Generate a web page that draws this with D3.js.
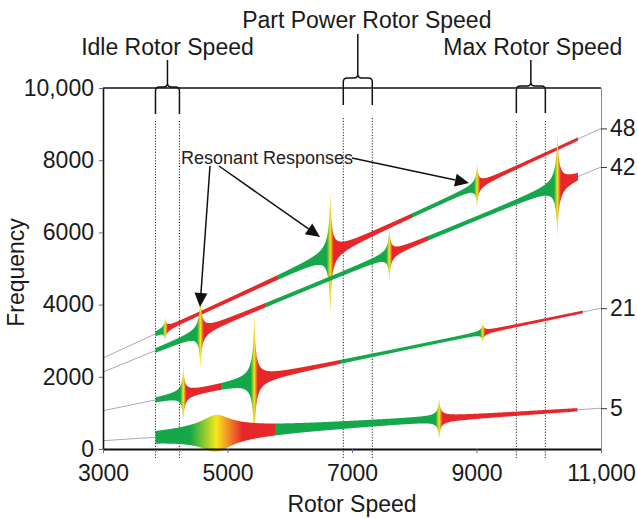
<!DOCTYPE html>
<html><head><meta charset="utf-8">
<script src="https://cdn.jsdelivr.net/npm/d3@7"></script>
<style>
body{margin:0;background:#fff}
svg{display:block}
text{font-family:"Liberation Sans",Arial,Helvetica,sans-serif}
</style>
</head><body>
<svg id="chart" width="637" height="518"></svg>
<script>
// ---------------- data ----------------
const engineOrders = [48, 42, 21, 5];
const freqAt3000  = [2520, 2130, 1060, 230];
const freqAt11000 = [8880, 7810, 3900, 1130];
const bandStart = [3843, 3843, 3843, 3843];
const bandEnd   = [10630, 10630, 10710, 10620];
const baseHalfStart = [46, 50, 46, 80];
const baseHalfEnd   = [42, 44, 34, 28];

// resonant responses
const resOrder = [48, 48, 48, 42, 42, 42, 21, 21, 21, 5, 5];
const resRpm   = [4000, 6650, 9010, 4565, 7600, 10300, 4290, 5430, 9100, 4820, 8400];
const resAmp   = [280, 1660, 560, 970, 700, 1410, 720, 1770, 230, 440, 500];
const resWidth = [20, 30, 26, 28, 26, 32, 26, 30, 22, 220, 28];
const resKind  = ["spike","spike","spike","spike","spike","spike","spike","spike","spike","hump","spike"];
const resBlend = [40, 55, 50, 55, 50, 55, 50, 55, 40, 420, 55];

// where band colour returns from red to green
const switchOrder = [48, 48, 42, 42, 21, 21, 5];
const switchRpm   = [5800, 7970, 5610, 8225, 4890, 6810, 5770];

// operating ranges
const rangeLabels = ["Idle Rotor Speed", "Part Power Rotor Speed", "Max Rotor Speed"];
const rangeLow  = [3843, 6860, 9640];
const rangeHigh = [4228, 7326, 10106];

// axes
const xTicks = [3000, 5000, 7000, 9000, 11000];
const xTickLabels = ["3000", "5000", "7000", "9000", "11,000"];
const yTicks = [0, 2000, 4000, 6000, 8000, 10000];
const yTickLabels = ["0", "2000", "4000", "6000", "8000", "10,000"];

// annotation arrows (tips in data units)
const arrowTipRpm  = [4558, 6486, 8880];
const arrowTipFreq = [3934, 5873, 7368];

// ---------------- drawing ----------------
const svg = d3.select("#chart");
const x = d3.scaleLinear().domain([3000, 11000]).range([103, 601]);
const y = d3.scaleLinear().domain([0, 10000]).range([449, 88]);

const GREEN = "#14a84a", RED = "#e8272b", YELLOW = "#f6e61c", GRAY = "#a3aab8";

const lines = engineOrders.map((eo, i) => ({
  eo, i, f0: freqAt3000[i], f1: freqAt11000[i], s: bandStart[i], e: bandEnd[i],
  b0: baseHalfStart[i], b1: baseHalfEnd[i]
}));
const res = resOrder.map((eo, i) => ({eo, rpm: resRpm[i], amp: resAmp[i], w: resWidth[i], kind: resKind[i], blend: resBlend[i]}));
const freqOn = (L, r) => L.f0 + (L.f1 - L.f0) * (r - 3000) / 8000;

function halfWidth(L, r) {
  let h = L.b0 + (L.b1 - L.b0) * (r - L.s) / (L.e - L.s);
  res.filter(q => q.eo === L.eo).forEach(q => {
    const d = Math.abs(r - q.rpm) / q.w;
    h += q.kind === "spike" ? q.amp / Math.pow(1 + d, 1.3) : q.amp / Math.sqrt(1 + d * d);
  });
  return h;
}

// dotted range lines
const dots = svg.append("g");
rangeLow.forEach((lo, i) => {
  [lo, rangeHigh[i]].forEach(r => {
    dots.append("line").attr("x1", x(r)).attr("x2", x(r))
      .attr("y1", i === 1 ? 118 : 121).attr("y2", 458)
      .attr("stroke", "#222").attr("stroke-width", 1).attr("stroke-dasharray", "1.2,1.6");
  });
});

// thin gray engine-order lines
const lineGen = d3.line().x(d => x(d[0])).y(d => y(d[1]));
svg.append("g").selectAll("path").data(lines).join("path")
  .attr("d", L => lineGen([[3000, L.f0], [11000, L.f1]]))
  .attr("fill", "none").attr("stroke", GRAY).attr("stroke-width", 1);

// gradients for bands
const defs = svg.append("defs");
lines.forEach(L => {
  const rs = res.filter(q => q.eo === L.eo).sort((a, b) => a.rpm - b.rpm);
  const sw = switchRpm.filter((s, k) => switchOrder[k] === L.eo).sort((a, b) => a - b);
  const off = r => Math.max(0, Math.min(1, (x(r) - x(L.s)) / (x(L.e) - x(L.s))));
  const st = [[0, GREEN]];
  rs.forEach((q, k) => {
    st.push([off(q.rpm - q.blend), GREEN]);
    st.push([off(q.rpm), YELLOW]);
    st.push([off(q.rpm + q.blend), RED]);
    if (k < sw.length) { st.push([off(sw[k]), RED]); st.push([off(sw[k]), GREEN]); }
  });
  st.push([1, RED]);
  const g = defs.append("linearGradient").attr("id", "g" + L.eo)
    .attr("gradientUnits", "userSpaceOnUse")
    .attr("x1", x(L.s)).attr("x2", x(L.e)).attr("y1", 0).attr("y2", 0);
  st.forEach(s => g.append("stop").attr("offset", s[0]).attr("stop-color", s[1]));
});

// bands
const area = d3.area().x(d => x(d.r)).y0(d => y(d.f - d.h)).y1(d => y(d.f + d.h));
lines.forEach(L => {
  const pts = d3.range(L.s, L.e, 3).concat(res.filter(q => q.eo === L.eo).map(q => q.rpm), [L.e])
    .sort((a, b) => a - b)
    .map(r => ({r, f: freqOn(L, r), h: halfWidth(L, r)}));
  svg.append("path").attr("d", area(pts)).attr("fill", `url(#g${L.eo})`);
});

// frame top
svg.append("line").attr("x1", x(3000)).attr("x2", x(11000)).attr("y1", y(10000)).attr("y2", y(10000))
  .attr("stroke", "#111").attr("stroke-width", 1.3);

// left axis
const ax = svg.append("g").attr("transform", `translate(${x(3000)},0)`)
  .call(d3.axisLeft(y).tickValues(yTicks).tickFormat((d, i) => yTickLabels[i]).tickSize(4).tickSizeOuter(0).tickPadding(5));
ax.select(".domain").attr("stroke", "#111").attr("stroke-width", 1.6);
ax.selectAll(".tick line").attr("stroke", "#5a6aa8");
ax.selectAll(".tick text").attr("font-size", 23).attr("fill", "#1a1a1a").attr("font-family", "Liberation Sans, Arial, sans-serif");

// bottom axis
const bx = svg.append("g").attr("transform", `translate(0,${y(0)})`)
  .call(d3.axisBottom(x).tickValues(xTicks).tickFormat((d, i) => xTickLabels[i]).tickSize(4).tickSizeOuter(0).tickPadding(12));
bx.select(".domain").attr("stroke", "#111").attr("stroke-width", 2);
bx.selectAll(".tick line").attr("stroke", "#5a6aa8");
bx.selectAll(".tick text").attr("font-size", 23).attr("fill", "#1a1a1a").attr("font-family", "Liberation Sans, Arial, sans-serif");

// right axis (engine orders)
const rx = svg.append("g").attr("transform", `translate(${x(11000)},0)`)
  .call(d3.axisRight(y).tickValues(freqAt11000).tickFormat((d, i) => engineOrders[i]).tickSize(6).tickSizeOuter(0).tickPadding(3));
rx.select(".domain").attr("stroke", "#8a8a8a").attr("stroke-width", 1);
rx.selectAll(".tick line").attr("stroke", "#333");
rx.selectAll(".tick text").attr("font-size", 23).attr("fill", "#1a1a1a").attr("font-family", "Liberation Sans, Arial, sans-serif");

// axis titles
svg.append("text").attr("transform", `translate(24,${(y(0) + y(10000)) / 2 + 4}) rotate(-90)`)
  .attr("text-anchor", "middle").attr("font-size", 23).attr("fill", "#1a1a1a").text("Frequency");
svg.append("text").attr("x", (x(3000) + x(11000)) / 2).attr("y", 512)
  .attr("text-anchor", "middle").attr("font-size", 23).attr("fill", "#1a1a1a").text("Rotor Speed");

// range brackets
const bracketTop  = [87, 78, 86];
const bracketBot  = [114, 105, 113];
const bracketStem = [60, 34, 60];
const labelBase   = [55, 28, 55];
const labelDx     = [0, 9, 2];
rangeLow.forEach((lo, i) => {
  const x1 = x(lo), x2 = x(rangeHigh[i]), xc = (x1 + x2) / 2, t = bracketTop[i], b = bracketBot[i], r = 4;
  const p = d3.path();
  p.moveTo(x1, b); p.lineTo(x1, t + r); p.quadraticCurveTo(x1, t, x1 + r, t); p.lineTo(xc - r, t);
  p.quadraticCurveTo(xc, t, xc, t - r); p.lineTo(xc, bracketStem[i]);
  p.moveTo(x2, b); p.lineTo(x2, t + r); p.quadraticCurveTo(x2, t, x2 - r, t); p.lineTo(xc + r, t);
  p.quadraticCurveTo(xc, t, xc, t - r);
  svg.append("path").attr("d", p.toString()).attr("fill", "none").attr("stroke", "#111").attr("stroke-width", 1.5);
  svg.append("text").attr("x", xc + labelDx[i]).attr("y", labelBase[i]).attr("text-anchor", "middle")
    .attr("font-size", 23).attr("fill", "#1a1a1a").text(rangeLabels[i]);
});

// annotation
svg.append("text").attr("x", 181).attr("y", 164).attr("font-size", 18).attr("fill", "#222").text("Resonant Responses");
const arrowFrom = [[210, 166], [219, 166], [352, 158]];
arrowFrom.forEach((f, i) => {
  const tx = x(arrowTipRpm[i]), ty = y(arrowTipFreq[i]);
  const dx = tx - f[0], dy = ty - f[1], len = Math.hypot(dx, dy), ux = dx / len, uy = dy / len;
  const hl = 14, hw = 6.5, bxp = tx - ux * hl, byp = ty - uy * hl;
  svg.append("line").attr("x1", f[0]).attr("y1", f[1]).attr("x2", bxp).attr("y2", byp)
    .attr("stroke", "#111").attr("stroke-width", 1.5);
  svg.append("path").attr("d", `M${tx},${ty}L${bxp - uy * hw},${byp + ux * hw}L${bxp + uy * hw},${byp - ux * hw}Z`)
    .attr("fill", "#111");
});
</script>
</body></html>
